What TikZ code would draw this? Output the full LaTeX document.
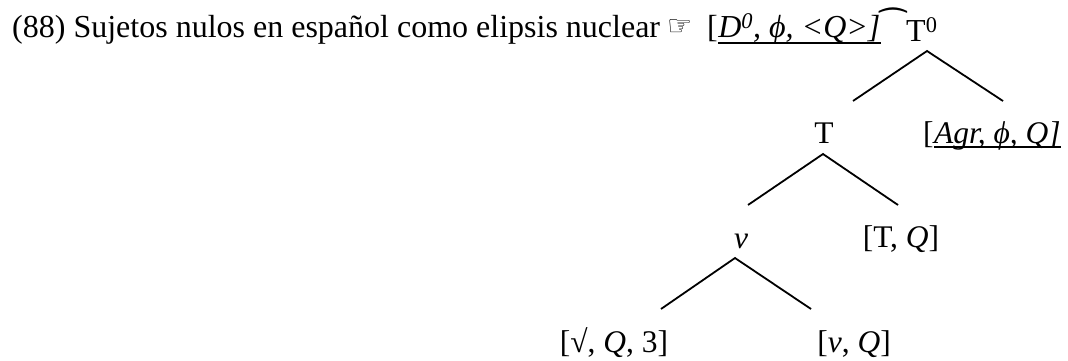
\documentclass[tikz,border=0pt]{standalone}
\usepackage{fontspec}
\setmainfont{Liberation Serif}
\newfontfamily\symbfont{DejaVu Sans}
\begin{document}
\begin{tikzpicture}[x=1pt,y=-1pt,
  lbl/.style={inner sep=0pt, font=\fontsize{31.5}{38}\selectfont},
  ttl/.style={inner sep=0pt, font=\fontsize{32}{38}\selectfont},
  branch/.style={line width=1.8pt},
  uline/.style={line width=1.8pt}]
\useasboundingbox (0,0) rectangle (1068,361);
% title
\node[ttl, anchor=base west] (title) at (12,38) {(88) Sujetos nulos en español como elipsis nuclear};
\node[inner sep=0pt, font=\symbfont\fontsize{28}{30}\selectfont, anchor=base west] (hand) at (667,36) {☞};
\node[ttl, anchor=base west] (ob) at (707,38) {[};
\node[ttl, anchor=base west] (ul) at (ob.base east) {\itshape D\textsuperscript{0}, ϕ, <Q>]};
\draw[uline] ([yshift=-5pt]ul.base west) -- ([yshift=-5pt]ul.base east);
\node[ttl, anchor=base west] (tie) at (ul.base east) {\symbfont ⁀};
\node[ttl, anchor=base west] (T0) at (906,42) {T\textsuperscript{0}};
% tree nodes
\node[lbl, anchor=base] (T) at (824,143) {T};
\node[lbl, anchor=base west] (agrb) at (923,143) {[};
\node[lbl, anchor=base west] (agr) at (agrb.base east) {\itshape Agr, ϕ, Q]};
\draw[uline] ([yshift=-4pt]agr.base west) -- ([yshift=-4pt]agr.base east);
\node[lbl, anchor=base] (v) at (741,248) {\itshape v};
\node[lbl, anchor=base] (TQ) at (901,247) {[T, \textit{Q}]};
\node[lbl, anchor=base] (root) at (614,352) {[√, \textit{Q}, 3]};
\node[lbl, anchor=base] (vQ) at (854,352) {[\textit{v}, \textit{Q}]};
% branch points
\coordinate (a0) at (927,51);
\coordinate (a0l) at (853,101);
\coordinate (a0r) at (1003,101);
\coordinate (a1) at (823,154);
\coordinate (a1l) at (748,205);
\coordinate (a1r) at (898,205);
\coordinate (a2) at (735,258);
\coordinate (a2l) at (661,309);
\coordinate (a2r) at (811,309);
\draw[branch] (a0l) -- (a0) -- (a0r);
\draw[branch] (a1l) -- (a1) -- (a1r);
\draw[branch] (a2l) -- (a2) -- (a2r);
\end{tikzpicture}
\end{document}
